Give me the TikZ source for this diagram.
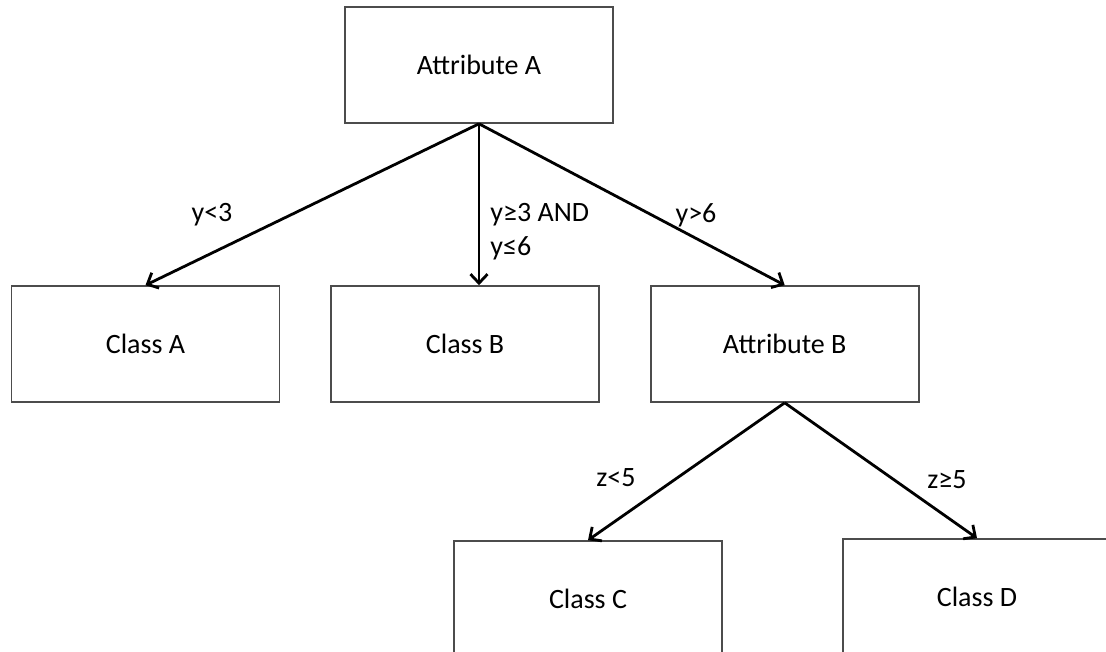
\documentclass[tikz,border=0pt]{standalone}
\usepackage{fontspec}
\setmainfont{Carlito}
\usetikzlibrary{arrows.meta,positioning}
\tikzstyle{attr}=[rectangle,draw=black!70,line width=1.6pt,
minimum width=268pt,minimum height=116pt,inner sep=0pt]
\tikzstyle{cls}=[attr]
\tikzstyle{cond}=[inner sep=0pt]

\begin{document}
\begin{tikzpicture}[x=1pt,y=-1pt,node distance=50pt,
  font=\fontsize{28}{34}\selectfont,
  >={Straight Barb[length=9pt,width=17pt]},line width=2.8pt]
			\useasboundingbox (0,0) rectangle (1106,652);

			% first split
			\node[attr] (aA) at (479,65) {Attribute A};
			\node[cls] (cA) at (145.5,344) {Class A};
			\node[cls,right=of cA] (cB) {Class B};
			\node[attr,right=of cB] (aB) {Attribute B};

			\draw[->] (aA.south) -- (cA.north);
			\draw[->] (aA.south) -- (aA.south |- cB.north);
			\draw[->] (aA.south) -- (aB.north);

			\node[cond] (yA) at (212,215) {y<3};
			\node[cond,anchor=west] (yB) at (489,215) {y≥3 AND};
			\node[cond,anchor=west] (yB2) at (489,248) {y≤6};
			\node[cond] (yC) at (696,215) {y>6};

			% second split
			\node[cls] (cC) at (588,599) {Class C};
			\node[cls] (cD) at (977,597) {Class D};

			\draw[->] (aB.south) -- (cC.north);
			\draw[->] (aB.south) -- (cD.north);

			\node[cond] (zC) at (616,478) {z<5};
			\node[cond] (zD) at (947,480) {z≥5};
		\end{tikzpicture}
\end{document}
